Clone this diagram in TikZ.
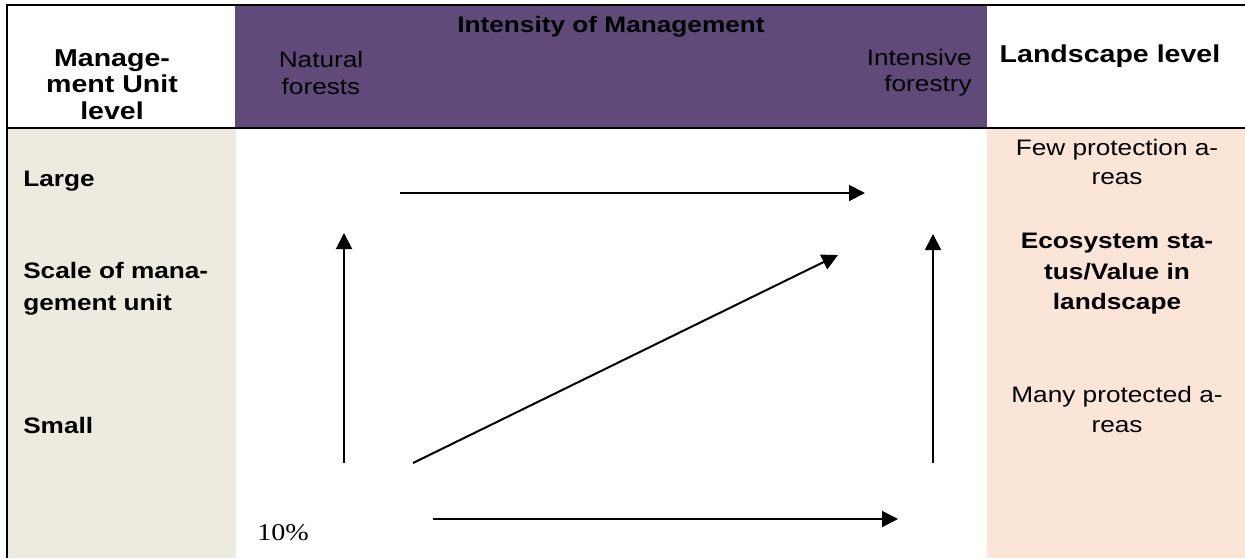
\documentclass[tikz,border=0pt]{standalone}
\usepackage{fontspec}
\setmainfont{Liberation Sans}[FakeStretch=1.17]
\newfontfamily\pctfont{Liberation Serif}[FakeStretch=1.17]
\usepackage{xcolor}
\usetikzlibrary{positioning}
\usetikzlibrary{arrows.meta}

\definecolor{intpurple}{RGB}{95,74,122}
\definecolor{unitbeige}{RGB}{237,235,224}
\definecolor{landpeach}{RGB}{251,229,214}

\tikzset{
  txt/.style={inner sep=0pt, font=\fontsize{16.8pt}{#1}\selectfont},
  txt/.default=20pt,
  btxt/.style={inner sep=0pt, font=\fontsize{16.8pt}{#1}\selectfont\bfseries},
  btxt/.default=20pt,
  hdtxt/.style={inner sep=0pt, font=\fontsize{18.3pt}{#1}\selectfont\bfseries},
  hdtxt/.default=20pt,
  arr/.style={black, line width=1.5pt, -{Triangle[length=12pt,width=12pt]}},
  rule/.style={black, line width=1.6pt}
}

\begin{document}
\begin{tikzpicture}[x=0.75pt, y=-0.75pt]
\useasboundingbox (0,0) rectangle (1245,558);

\fill[intpurple] (235,6) rectangle (987,128);
\fill[unitbeige] (7,128) rectangle (236,558);
\fill[landpeach] (987,128) rectangle (1245,558);

\draw[rule] (7,558) -- (7,5) -- (1245,5);
\draw[rule] (7,128) -- (1245,128);

\node[btxt, anchor=base] (intensity) at (611,32) {Intensity of Management};
\node[hdtxt=19.9pt, align=center, anchor=north] (unitlevel) at (112,49) {Manage-\\ment Unit\\level};
\node[txt=20.2pt, align=center, anchor=north] (natural) at (321,51) {Natural\\forests};
\node[txt=19.5pt, align=right, anchor=north east] (intensive) at (972,49) {Intensive\\forestry};
\node[hdtxt, anchor=base] (landlevel) at (1110,62) {Landscape level};

\node[btxt, anchor=base west] (large) at (23,186) {Large};
\node[btxt=24pt, align=left, anchor=north west] (scale) at (23,262) {Scale of mana-\\gement unit};
\node[btxt, anchor=base west] (small) at (23,433) {Small};
\node[inner sep=0pt, anchor=base west, font=\pctfont\fontsize{18pt}{21pt}\selectfont] (pct) at (257,540) {10\%};

\node[txt=21.75pt, align=center, anchor=north] (few) at (1117,139) {Few protection a-\\reas};
\node[btxt=22.9pt, align=center, anchor=north] (eco) at (1117,233) {Ecosystem sta-\\tus/Value in\\landscape};
\node[txt=22.5pt, align=center, anchor=north] (many) at (1117,386) {Many protected a-\\reas};

\coordinate (topS) at (400,193);
\coordinate (topE) at (865,193);
\coordinate (leftS) at (344,463);
\coordinate (leftE) at (344,233);
\coordinate (diagS) at (413,463);
\coordinate (diagE) at (838,255);
\coordinate (rightS) at (933,463);
\coordinate (rightE) at (933,234);
\coordinate (botS) at (433,519);
\coordinate (botE) at (898,519);

\draw[arr] (topS) -- (topE);
\draw[arr] (leftS) -- (leftE);
\draw[arr] (diagS) -- (diagE);
\draw[arr] (rightS) -- (rightE);
\draw[arr] (botS) -- (botE);

\end{tikzpicture}
\end{document}
